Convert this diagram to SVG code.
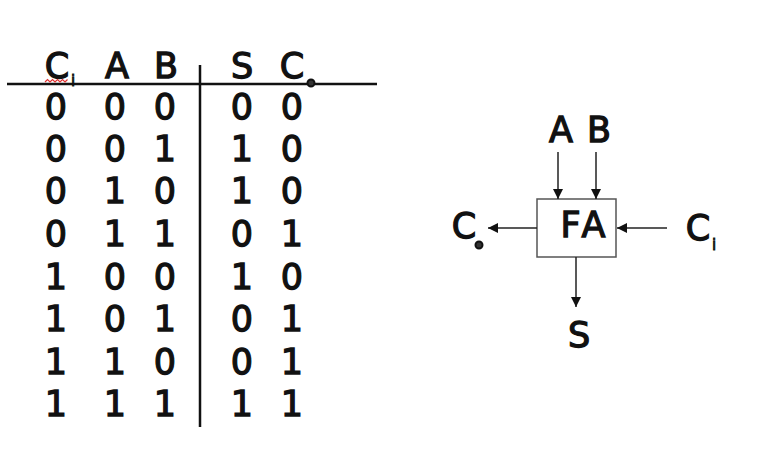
<svg xmlns="http://www.w3.org/2000/svg" width="774" height="461" viewBox="0 0 774 461">
<style>
text{font-family:"DejaVu Sans","Liberation Sans",sans-serif;fill:#111;stroke:#111;stroke-width:1.3}
.t{font-size:35px;text-anchor:middle}
.sub{font-size:15px;stroke-width:0.8}
.tl{stroke:#111;stroke-width:2.5;fill:none}
.c{stroke:#222;stroke-width:1.5;fill:none}
</style>
<defs>
<marker id="ah" viewBox="0 0 10 10" refX="10" refY="5" markerWidth="14" markerHeight="10" markerUnits="userSpaceOnUse" orient="auto">
<path d="M0,0 L10,5 L0,10 z" fill="#111"/>
</marker>
</defs>
<g id="table">
<line class="tl" x1="7" y1="84" x2="377" y2="84"/>
<line class="tl" x1="200" y1="65" x2="200" y2="427"/>
<text class="t" x="57" y="78">C</text><text class="sub" x="71" y="86">i</text>
<path d="M45,82 l2.5,-2.5 l2.5,2.5 l2.5,-2.5 l2.5,2.5 l2.5,-2.5 l2.5,2.5 l2.5,-2.5 l2.5,2.5 l2.5,-2.5" stroke="#e03030" stroke-width="1.2" fill="none"/>
<text class="t" x="117" y="78">A</text>
<text class="t" x="166" y="78">B</text>
<text class="t" x="242" y="78">S</text>
<text class="t" x="292" y="78">C</text><circle cx="311" cy="83" r="3.5" fill="#333" stroke="#111" stroke-width="2"/>
<g class="t">
<text x="56" y="119">0</text><text x="115" y="119">0</text><text x="165" y="119">0</text><text x="242" y="119">0</text><text x="292" y="119">0</text>
<text x="56" y="161">0</text><text x="115" y="161">0</text><text x="165" y="161">1</text><text x="242" y="161">1</text><text x="292" y="161">0</text>
<text x="56" y="203">0</text><text x="115" y="203">1</text><text x="165" y="203">0</text><text x="242" y="203">1</text><text x="292" y="203">0</text>
<text x="56" y="246">0</text><text x="115" y="246">1</text><text x="165" y="246">1</text><text x="242" y="246">0</text><text x="292" y="246">1</text>
<text x="56" y="289">1</text><text x="115" y="289">0</text><text x="165" y="289">0</text><text x="242" y="289">1</text><text x="292" y="289">0</text>
<text x="56" y="331">1</text><text x="115" y="331">0</text><text x="165" y="331">1</text><text x="242" y="331">0</text><text x="292" y="331">1</text>
<text x="56" y="374">1</text><text x="115" y="374">1</text><text x="165" y="374">0</text><text x="242" y="374">0</text><text x="292" y="374">1</text>
<text x="56" y="416">1</text><text x="115" y="416">1</text><text x="165" y="416">1</text><text x="242" y="416">1</text><text x="292" y="416">1</text>
</g>
</g>
<g id="fa">
<rect x="537" y="199" width="79" height="58" fill="#fff" stroke="#555" stroke-width="1.5"/>
<text class="t" x="585" y="237" letter-spacing="4">FA</text>
</g>
<g id="labels">
<text class="t" x="561" y="142">A</text>
<text class="t" x="599" y="142">B</text>
<text class="t" x="464" y="238">C</text><circle cx="479" cy="245" r="3.5" fill="#333" stroke="#111" stroke-width="2"/>
<text class="t" x="698" y="240">C</text><text class="sub" x="712" y="250">i</text>
<text class="t" x="579" y="347">S</text>
</g>
<g id="connectors">
<line class="c" x1="558" y1="152" x2="558" y2="199" marker-end="url(#ah)"/>
<line class="c" x1="596" y1="152" x2="596" y2="199" marker-end="url(#ah)"/>
<line class="c" x1="537" y1="228" x2="488" y2="228" marker-end="url(#ah)"/>
<line class="c" x1="667" y1="228" x2="617" y2="228" marker-end="url(#ah)"/>
<line class="c" x1="576" y1="257" x2="576" y2="307" marker-end="url(#ah)"/>
</g>
</svg>
